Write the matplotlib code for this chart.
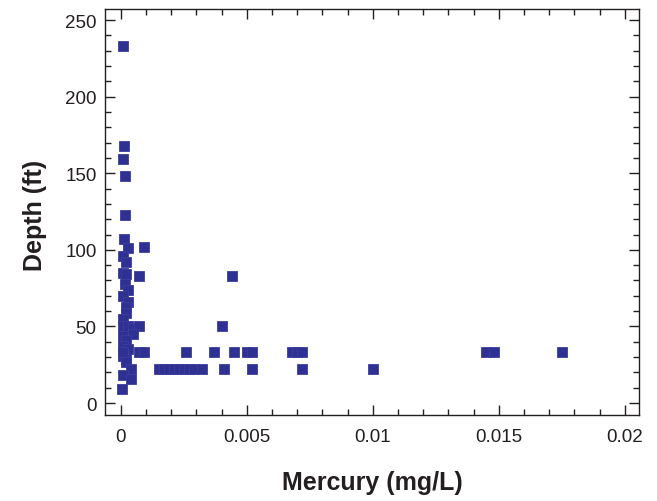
import matplotlib
matplotlib.use("Agg")
import matplotlib.pyplot as plt
from matplotlib.ticker import MultipleLocator, FormatStrFormatter

plt.rcParams['font.family'] = ['Liberation Sans', 'DejaVu Sans']

# Mercury concentration (mg/L) versus sample depth (ft)
mercury = [
    0.0001, 0.00012, 0.00008, 0.00015, 0.00015, 0.00012, 0.0003, 0.0009,
    0.0001, 0.0002, 0.0001, 0.0002, 0.0007, 0.00015, 0.0003, 0.0001,
    0.0003, 0.0002, 0.0002, 0.0001, 0.0001, 0.0003, 0.0005, 0.0007,
    0.0001, 0.0005, 0.0002, 0.0001, 0.0003, 0.00008, 0.0002, 0.0002,
    0.0004, 0.0001, 0.0004, 0.00005,
    # 33 ft horizon
    0.0001, 0.0007, 0.0009, 0.0026, 0.0037, 0.0045, 0.0050, 0.0052,
    0.0068, 0.0070, 0.0072, 0.0145, 0.0148, 0.0175,
    # 22 ft horizon
    0.0015, 0.0017, 0.0019, 0.0021, 0.0023, 0.0025, 0.0027, 0.0029,
    0.0032, 0.0041, 0.0052, 0.0072, 0.0100,
    # scattered
    0.0044, 0.0040,
]
depth = [
    233, 168, 159, 148, 123, 107, 101, 102,
    96, 92, 85, 84, 83, 78, 74, 70,
    66, 63, 59, 55, 50, 50, 49, 50,
    44, 45, 41, 37, 35, 31, 29, 27,
    22, 18, 16, 9,
    33, 33, 33, 33, 33, 33, 33, 33,
    33, 33, 33, 33, 33, 33,
    22, 22, 22, 22, 22, 22, 22, 22,
    22, 22, 22, 22, 22,
    83, 50,
]

x_label = "Mercury (mg/L)"
y_label = "Depth (ft)"

fig = plt.figure(figsize=(6.57, 5.02), dpi=100)
ax = fig.add_axes([0.1598, 0.1713, 0.8128, 0.8088])

ax.plot(mercury, depth, linestyle='none', marker='s', markersize=7.2,
        markerfacecolor='#2e3192', markeredgecolor='#3a3d9e',
        markeredgewidth=0.6)

ax.set_xlim(-0.00063, 0.02056)
ax.set_ylim(-7.8, 257.2)

ax.xaxis.set_major_locator(MultipleLocator(0.005))
ax.xaxis.set_minor_locator(MultipleLocator(0.001))
ax.yaxis.set_major_locator(MultipleLocator(50))
ax.yaxis.set_minor_locator(MultipleLocator(10))

def xfmt(v, pos):
    if abs(v) < 1e-12:
        return "0"
    return ("%.3f" % v).rstrip('0')

ax.xaxis.set_major_formatter(plt.FuncFormatter(xfmt))
ax.yaxis.set_major_formatter(FormatStrFormatter('%d'))

tick_color = '#231f20'
for s in ax.spines.values():
    s.set_linewidth(1.0)
    s.set_color(tick_color)

ax.tick_params(which='both', direction='in', top=True, right=True,
               colors=tick_color, labelcolor='#231f20')
ax.tick_params(which='major', length=7, width=1.0, labelsize=13.5)
ax.tick_params(which='minor', length=4, width=1.0)
ax.tick_params(axis='x', which='major', pad=9)
ax.tick_params(axis='y', which='major', pad=6)

ax.set_xlabel(x_label, fontsize=18, fontweight='bold', color='#231f20')
ax.set_ylabel(y_label, fontsize=18, fontweight='bold', color='#231f20')
ax.xaxis.set_label_coords(0.5, -0.165)
ax.xaxis.label.set_va('center')
ax.yaxis.set_label_coords(-0.131, 0.495)
ax.yaxis.label.set_va('center')

fig.savefig("out.png", dpi=100)
